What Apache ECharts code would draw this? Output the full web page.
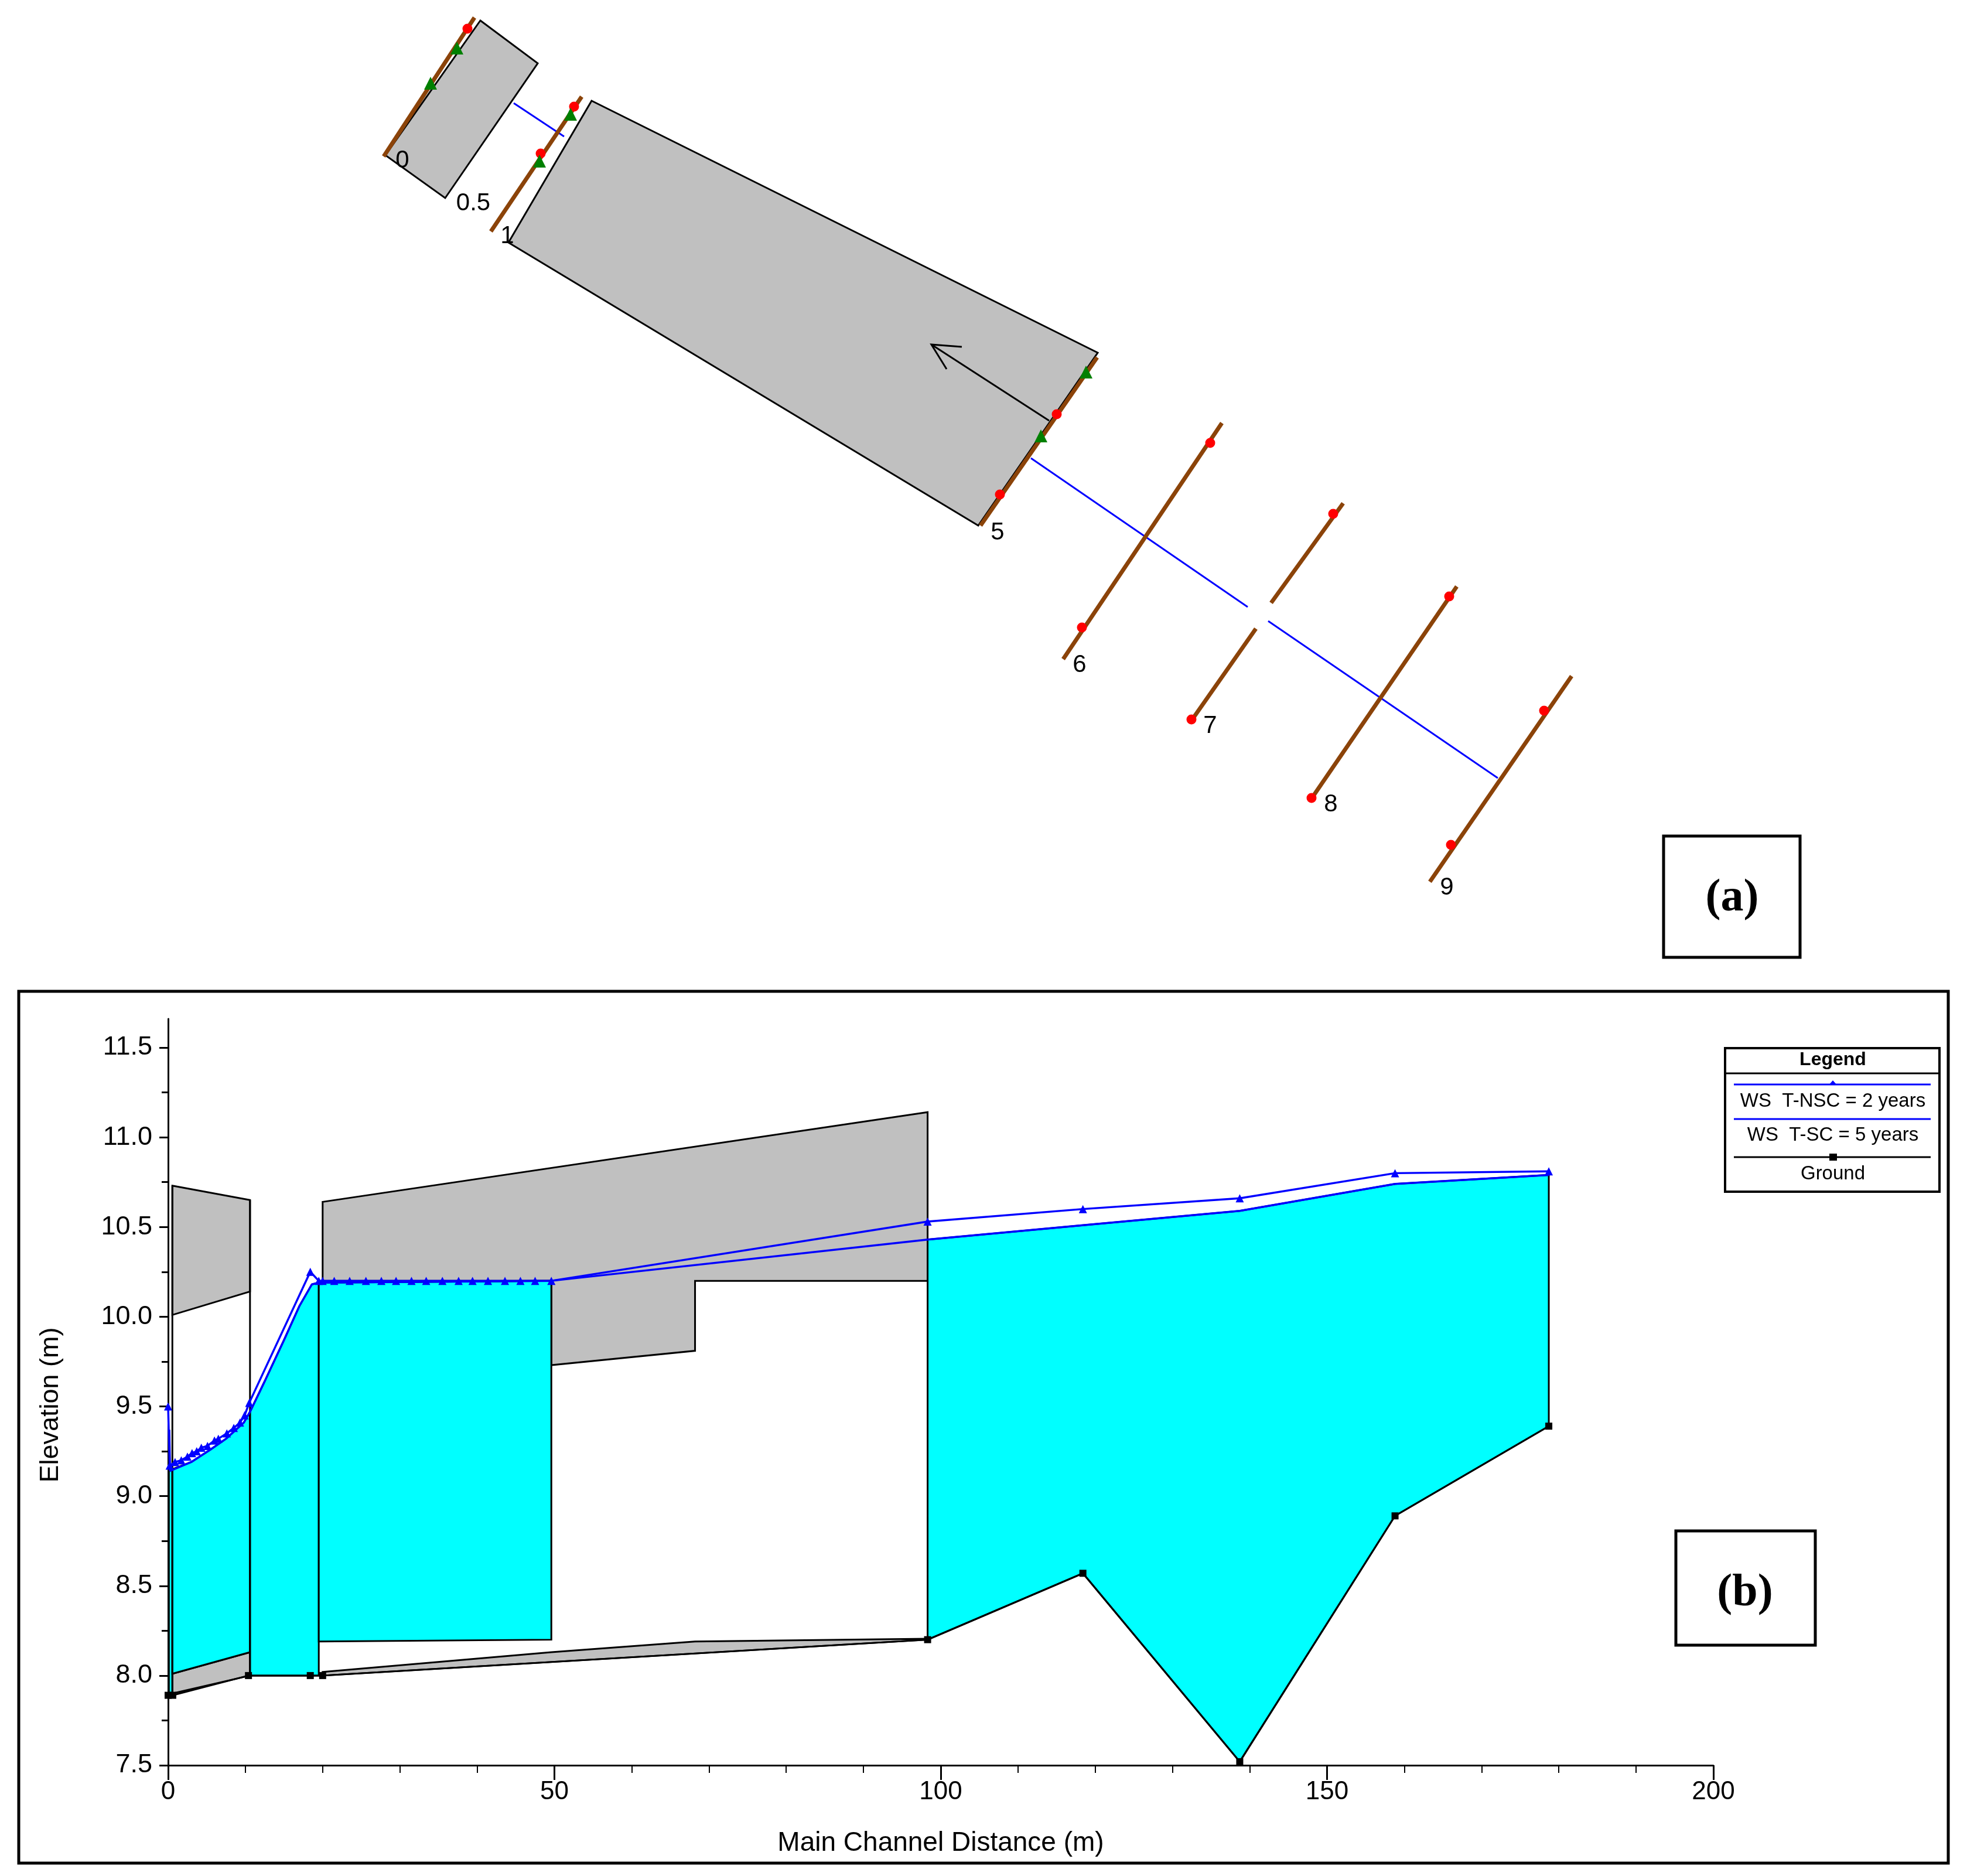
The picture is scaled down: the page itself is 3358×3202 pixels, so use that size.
<!DOCTYPE html>
<html>
<head>
<meta charset="utf-8">
<title>Culvert reach plan and profile</title>
<script src="https://cdn.jsdelivr.net/npm/echarts@6/dist/echarts.min.js"></script>
<style>
  html, body { margin: 0; padding: 0; background: #fff; }
  #chart { width: 3358px; height: 3202px; }
</style>
</head>
<body>
<div id="chart"></div>
<script>
// profile (b): distance in m, elevation in m
const xMajorTicks = [0, 50, 100, 150, 200]
const xMinorTicks = [0, 10, 20, 30, 40, 50, 60, 70, 80, 90, 100, 110, 120, 130, 140, 150, 160, 170, 180, 190, 200]
const yMajorTicks = [7.5, 8, 8.5, 9, 9.5, 10, 10.5, 11, 11.5]
const yMinorTicks = [7.75, 8.25, 8.75, 9.25, 9.75, 10.25, 10.75, 11.25]

const groundX = [0, 0.6, 10.4, 18.4, 20, 98.3, 118.4, 138.7, 158.8, 178.7]
const groundY = [7.89, 7.89, 8.0, 8.0, 8.0, 8.2, 8.57, 7.52, 8.89, 9.39]

const wsNscX = [0, 0.2, 0.9, 1.7, 2.5, 3.1, 3.7, 4.3, 5.1, 6, 6.5, 7.6, 8.5, 9.3, 9.9, 10.5, 18.4, 19.5, 20,
  21.5, 23.5, 25.6, 27.6, 29.5, 31.5, 33.4, 35.5, 37.6, 39.4, 41.4, 43.6, 45.6, 47.5, 49.6, 98.3, 118.4, 138.7, 158.8, 178.7]
const wsNscY = [9.5, 9.17, 9.19, 9.2, 9.22, 9.24, 9.25, 9.27, 9.28, 9.31, 9.32, 9.35, 9.38, 9.41, 9.45, 9.52, 10.25, 10.2, 10.2,
  10.2, 10.2, 10.2, 10.2, 10.2, 10.2, 10.2, 10.2, 10.2, 10.2, 10.2, 10.2, 10.2, 10.2, 10.2, 10.53, 10.6, 10.66, 10.8, 10.81]

const wsScX = [0.15, 0.25, 3, 5.5, 7.5, 9.8, 10.6, 12.5, 15, 17, 18.6, 19.5, 49.6, 98.3, 118.4, 138.7, 158.8, 178.7]
const wsScY = [9.37, 9.14, 9.19, 9.26, 9.32, 9.41, 9.47, 9.64, 9.87, 10.06, 10.18, 10.19, 10.2, 10.43, 10.51, 10.59, 10.74, 10.79]

const deckPolygons = [
  [[0.55, 10.73], [10.6, 10.65], [10.6, 10.14], [0.55, 10.01]],
  [[20, 10.64], [98.3, 11.14], [98.3, 10.2], [68.2, 10.2], [68.2, 9.81], [49.6, 9.73], [49.6, 10.2], [20, 10.2]],
  [[0.55, 8.01], [10.6, 8.13], [10.6, 8.0], [0.55, 7.9]],
  [[20, 8.02], [49.6, 8.13], [68.2, 8.19], [98.3, 8.205], [98.3, 8.2], [20, 8.0]]
]
const waterPolygons = [
  [[0.1, 7.89], [0.1, 9.14], [0.55, 9.15], [0.55, 7.89]],
  [[0.55, 9.15], [3, 9.19], [5.5, 9.26], [7.5, 9.32], [9.8, 9.41], [10.6, 9.47], [10.6, 8.13], [0.55, 8.01]],
  [[10.6, 9.47], [12.5, 9.64], [15, 9.87], [17, 10.06], [18.6, 10.18], [19.5, 10.19], [19.5, 8.0], [10.6, 8.0]],
  [[19.5, 10.19], [49.6, 10.2], [49.6, 8.2], [19.5, 8.19]],
  [[98.3, 10.43], [118.4, 10.51], [138.7, 10.59], [158.8, 10.74], [178.7, 10.79], [178.7, 9.39], [158.8, 8.89], [138.7, 7.52], [118.4, 8.57], [98.3, 8.2]]
]
const structureEdges = [
  [[0.55, 7.9], [0.55, 10.73]],
  [[10.6, 8.0], [10.6, 10.65]]
]

// plan view (a), units of the sketch
const planDecks = [
  [[820, 35], [918, 108], [760, 338], [658, 265]],
  [[1010, 172], [1874, 602], [1670, 897], [868, 414]]
]
const planSections = [
  [[810, 30], [655, 267]],
  [[993, 165], [838, 395]],
  [[1873, 610], [1674, 897]],
  [[2086, 722], [1815, 1125]],
  [[2293, 859], [2170, 1029]],
  [[2144, 1073], [2036, 1227]],
  [[2487, 1001], [2241, 1360]],
  [[2683, 1154], [2441, 1505]]
]
const planCentreLines = [
  [[877, 176], [963, 233]],
  [[1760, 782], [2130, 1036]],
  [[2165, 1060], [2557, 1328]]
]
const planArrow = [
  [[1791, 718], [1590, 588]],
  [[1642, 592], [1590, 588], [1616, 630]]
]
const planBankPoints = [[798, 49], [980, 182], [923, 262], [1804, 707], [1707, 844], [2066, 756], [1847, 1071],
  [2276, 877], [2034, 1228], [2474, 1018], [2239, 1362], [2636, 1213], [2477, 1442]]
const planLeveePoints = [[780, 82], [735, 142], [974, 195], [921, 275], [1854, 635], [1777, 744]]
const planStations = [['0', 687, 274], ['0.5', 808, 347], ['1', 866, 403], ['5', 1703, 909], ['6', 1843, 1135],
  ['7', 2066, 1239], ['8', 2272, 1373], ['9', 2470, 1515]]

const zip = (xs, ys) => xs.map((x, i) => [x, ys[i]])
const FONT = '"Liberation Sans", Arial, sans-serif'
const SERIF = '"Liberation Serif", "Times New Roman", serif'

const polygonSeries = (polys, style, xAxisIndex, yAxisIndex, z) => ({
  type: 'custom',
  xAxisIndex,
  yAxisIndex,
  z,
  clip: false,
  silent: true,
  data: polys.map((_, i) => [i]),
  renderItem: (params, api) => ({
    type: 'polygon',
    shape: { points: polys[params.dataIndex].map((p) => api.coord(p)) },
    style
  })
})

const polylineSeries = (lines, style, xAxisIndex, yAxisIndex, z) => ({
  type: 'custom',
  xAxisIndex,
  yAxisIndex,
  z,
  clip: false,
  silent: true,
  data: lines.map((_, i) => [i]),
  renderItem: (params, api) => ({
    type: 'polyline',
    shape: { points: lines[params.dataIndex].map((p) => api.coord(p)) },
    style: { fill: null, ...style }
  })
})

const frameBox = (x, y, width, height, lineWidth) => ({
  type: 'rect',
  shape: { x, y, width, height },
  style: { fill: null, stroke: '#000', lineWidth },
  silent: true
})

const boxText = (text, x, y, font) => ({
  type: 'text',
  x,
  y,
  silent: true,
  style: { text, font, fill: '#000', align: 'center', verticalAlign: 'middle' }
})

const hLine = (x1, x2, y, stroke, lineWidth) => ({
  type: 'line',
  shape: { x1, y1: y, x2, y2: y },
  style: { stroke, lineWidth },
  silent: true
})

const chart = echarts.init(document.getElementById('chart'))

chart.setOption({
  animation: false,
  backgroundColor: '#fff',
  grid: [
    { left: 287, top: 1739, width: 2638, height: 1274 },
    { left: 0, top: 0, width: 3358, height: 1660 }
  ],
  xAxis: [
    {
      type: 'value', gridIndex: 0, min: 0, max: 200, position: 'bottom',
      name: 'Main Channel Distance (m)', nameLocation: 'middle', nameGap: 110,
      nameTextStyle: { fontFamily: FONT, fontSize: 46, color: '#000' },
      splitLine: { show: false },
      axisLine: { onZero: false, lineStyle: { color: '#000', width: 3 } },
      axisTick: { length: 25, customValues: xMajorTicks, lineStyle: { color: '#000', width: 3 } },
      axisLabel: { customValues: xMajorTicks, margin: 24, fontFamily: FONT, fontSize: 44, color: '#000' }
    },
    {
      type: 'value', gridIndex: 0, min: 0, max: 200, position: 'bottom',
      splitLine: { show: false },
      axisLine: { show: false, onZero: false },
      axisTick: { length: 13, customValues: xMinorTicks, lineStyle: { color: '#000', width: 2 } },
      axisLabel: { show: false }
    },
    { type: 'value', gridIndex: 1, min: 0, max: 3358, show: false }
  ],
  yAxis: [
    {
      type: 'value', gridIndex: 0, min: 7.5, max: 11.66, position: 'left',
      name: 'Elevation (m)', nameLocation: 'middle', nameGap: 178,
      nameTextStyle: { fontFamily: FONT, fontSize: 45, color: '#000', padding: [0, 44, 0, 0] },
      splitLine: { show: false },
      axisLine: { onZero: false, lineStyle: { color: '#000', width: 3 } },
      axisTick: { length: 15, customValues: yMajorTicks, lineStyle: { color: '#000', width: 3 } },
      axisLabel: {
        customValues: yMajorTicks, margin: 27, fontFamily: FONT, fontSize: 45, color: '#000',
        padding: [8, 0, 0, 0],
        formatter: (v) => v.toFixed(1)
      }
    },
    {
      type: 'value', gridIndex: 0, min: 7.5, max: 11.66, position: 'left',
      splitLine: { show: false },
      axisLine: { show: false, onZero: false },
      axisTick: { length: 11, customValues: yMinorTicks, lineStyle: { color: '#000', width: 3 } },
      axisLabel: { show: false }
    },
    { type: 'value', gridIndex: 1, min: 0, max: 1660, inverse: true, show: false }
  ],
  series: [
    // plan view
    polygonSeries(planDecks, { fill: '#c0c0c0', stroke: '#000', lineWidth: 3 }, 2, 2, 2),
    polylineSeries(planCentreLines, { stroke: '#0000ff', lineWidth: 3 }, 2, 2, 3),
    polylineSeries(planArrow, { stroke: '#000', lineWidth: 3 }, 2, 2, 3),
    polylineSeries(planSections, { stroke: '#8b4309', lineWidth: 7 }, 2, 2, 4),
    {
      type: 'scatter', xAxisIndex: 2, yAxisIndex: 2, z: 5, silent: true,
      symbol: 'circle', symbolSize: 17, itemStyle: { color: '#ff0000', opacity: 1 },
      data: planBankPoints
    },
    {
      type: 'scatter', xAxisIndex: 2, yAxisIndex: 2, z: 6, silent: true,
      symbol: 'triangle', symbolSize: 22, itemStyle: { color: '#008000', opacity: 1 },
      data: planLeveePoints
    },
    {
      type: 'scatter', xAxisIndex: 2, yAxisIndex: 2, z: 7, silent: true,
      symbolSize: 0, itemStyle: { opacity: 1 },
      data: planStations.map((s) => ({ value: [s[1], s[2]], name: s[0] })),
      label: {
        show: true, position: 'inside', formatter: '{b}',
        fontFamily: FONT, fontSize: 42, color: '#000', opacity: 1
      }
    },
    // profile
    polygonSeries(deckPolygons, { fill: '#c0c0c0', stroke: '#000', lineWidth: 3 }, 0, 0, 2),
    polygonSeries(waterPolygons, { fill: '#00ffff', stroke: '#000', lineWidth: 3 }, 0, 0, 3),
    polylineSeries(structureEdges, { stroke: '#000', lineWidth: 3 }, 0, 0, 4),
    {
      name: 'Ground', type: 'line', xAxisIndex: 0, yAxisIndex: 0, z: 5, silent: true, clip: false,
      data: zip(groundX, groundY),
      symbol: 'rect', symbolSize: 12, showAllSymbol: true,
      lineStyle: { color: '#000', width: 3 }, itemStyle: { color: '#000' }
    },
    {
      name: 'WS T-SC = 5 years', type: 'line', xAxisIndex: 0, yAxisIndex: 0, z: 6, silent: true, clip: false,
      data: zip(wsScX, wsScY),
      symbol: 'none',
      lineStyle: { color: '#0000ff', width: 3.5 }
    },
    {
      name: 'WS T-NSC = 2 years', type: 'line', xAxisIndex: 0, yAxisIndex: 0, z: 6, silent: true, clip: false,
      data: zip(wsNscX, wsNscY),
      symbol: 'triangle', symbolSize: 14, showAllSymbol: true,
      lineStyle: { color: '#0000ff', width: 3.5 }, itemStyle: { color: '#0000ff' }
    }
  ],
  graphic: [
    frameBox(2840, 1427, 233, 207, 5),
    boxText('(a)', 2957, 1534, 'bold 78px ' + SERIF),
    frameBox(32, 1692, 3294, 1488, 5),
    frameBox(2861, 2613, 238, 195, 5),
    boxText('(b)', 2979, 2720, 'bold 78px ' + SERIF),
    // legend
    frameBox(2945, 1789, 366, 245, 4),
    hLine(2945, 3311, 1832, '#000', 3),
    boxText('Legend', 3129, 1809, 'bold 32px ' + FONT),
    hLine(2960, 3296, 1851, '#0000ff', 3),
    {
      type: 'polygon',
      shape: { points: [[3129, 1844], [3136, 1852], [3122, 1852]] },
      style: { fill: '#0000ff' },
      silent: true
    },
    boxText('WS  T-NSC = 2 years', 3129, 1880, '33px ' + FONT),
    hLine(2960, 3296, 1910, '#0000ff', 3),
    boxText('WS  T-SC = 5 years', 3129, 1938, '33px ' + FONT),
    hLine(2960, 3296, 1975, '#000', 3),
    {
      type: 'rect',
      shape: { x: 3123, y: 1969, width: 13, height: 12 },
      style: { fill: '#000' },
      silent: true
    },
    boxText('Ground', 3129, 2004, '33px ' + FONT)
  ]
})
</script>
</body>
</html>
